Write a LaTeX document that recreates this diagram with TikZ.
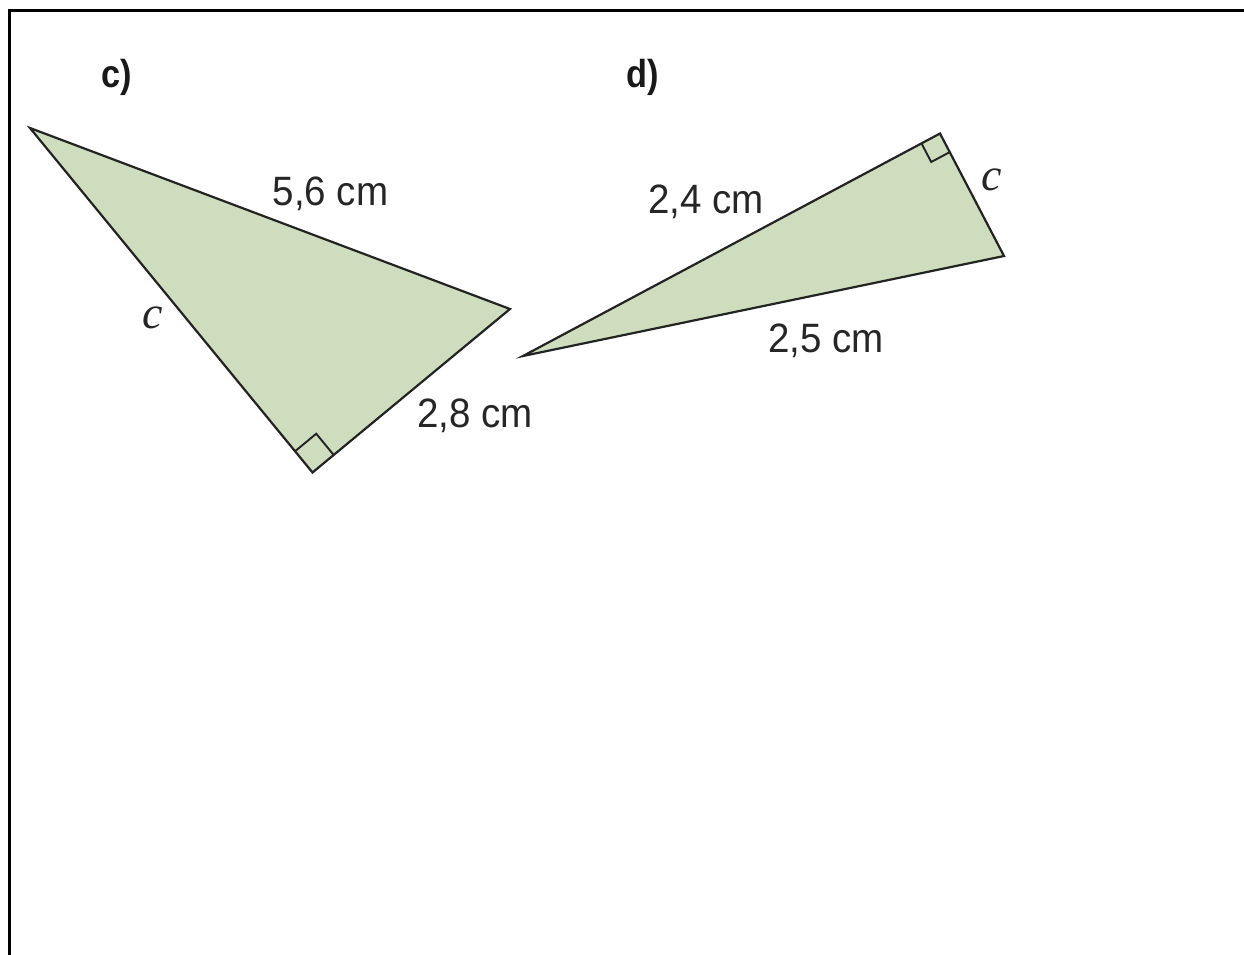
\documentclass[tikz,border=0pt]{standalone}
\usepackage{fontspec}
\usetikzlibrary{calc}
\setmainfont{Liberation Sans}
\newfontfamily\cond[FakeStretch=0.94]{Liberation Sans}
\newfontfamily\condb[FakeStretch=0.88]{Liberation Sans}
\newfontfamily\serifc{Liberation Serif}
\definecolor{trifill}{RGB}{205,221,189}
\definecolor{triline}{RGB}{35,35,35}
\tikzset{
  tri/.style={fill=trifill, draw=triline, line width=2.2pt, line join=miter},
  rmark/.style={draw=triline, line width=1.9pt},
  meas/.style={font=\fontsize{41}{41}\selectfont\cond, text=black!85, anchor=base, inner sep=0pt},
  side/.style={font=\fontsize{46}{46}\selectfont\serifc\itshape, text=black!85, inner sep=0pt},
  part/.style={font=\fontsize{39}{39}\selectfont\condb\bfseries, text=black!90, anchor=base, inner sep=0pt},
  frame/.style={draw=black, line width=3pt}
}
\begin{document}
\begin{tikzpicture}[x=1pt,y=-1pt]
\useasboundingbox (0,0) rectangle (1244,955);
% frame
\coordinate (f1) at (9,960);
\coordinate (f2) at (9,11);
\coordinate (f3) at (1250,11);
\draw[frame] (f1) -- (f2) -- (f3);

% part labels
\node[part] (lc) at (117,88) {c)};
\node[part] (ld) at (643,88) {d)};

% triangle c
\coordinate (A) at (30,128);
\coordinate (B) at (510,309);
\coordinate (C) at (312.5,472.5);
\draw[tri] (A) -- (B) -- (C) -- cycle;
\draw[rmark] ($(C)!27.5pt!(A)$) -- ($(C)!27.5pt!(A)+(C)!27.5pt!(B)-(C)$) -- ($(C)!27.5pt!(B)$);
\node[meas] (m56) at (330.5,205) {5,6 cm};
\node[meas] (m28) at (475,427) {2,8 cm};
\node[side] (sc1) at (153,318) {c};

% triangle d
\coordinate (P) at (523,356);
\coordinate (Q) at (940,133.5);
\coordinate (R) at (1004,256);
\draw[tri] (P) -- (Q) -- (R) -- cycle;
\draw[rmark] ($(Q)!21pt!(P)$) -- ($(Q)!21pt!(P)+(Q)!21pt!(R)-(Q)$) -- ($(Q)!21pt!(R)$);
\node[meas] (m24) at (706,213) {2,4 cm};
\node[meas] (m25) at (826,352) {2,5 cm};
\node[side] (sc2) at (992,180) {c};
\end{tikzpicture}
\end{document}
